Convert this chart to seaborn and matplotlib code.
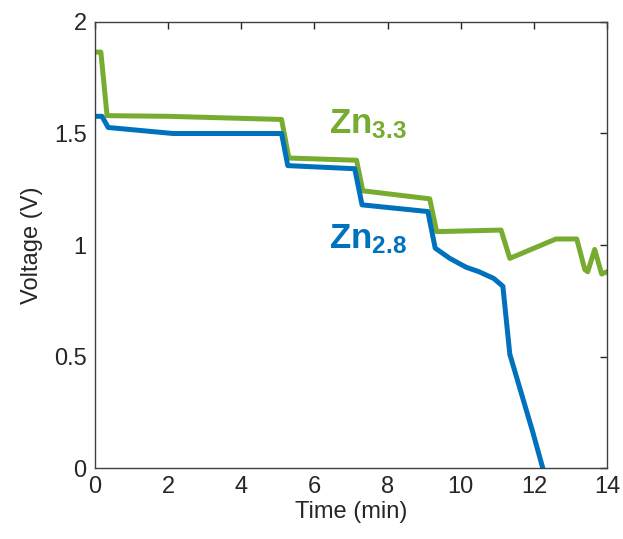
import pandas as pd
import matplotlib
matplotlib.use('Agg')
import matplotlib.pyplot as plt
import seaborn as sns

# --- Data (time in min, voltage in V) ---
zn33_time = [0.0, 0.16, 0.33, 2.0, 5.1, 5.3, 7.15, 7.32, 9.15, 9.34, 11.1, 11.34,
             12.6, 13.17, 13.39, 13.47, 13.66, 13.85, 14.0]
zn33_volt = [1.865, 1.865, 1.58, 1.577, 1.563, 1.39, 1.38, 1.243, 1.207, 1.06, 1.067, 0.94,
             1.027, 1.027, 0.89, 0.88, 0.98, 0.87, 0.88]

zn28_time = [0.0, 0.19, 0.36, 2.13, 5.1, 5.27, 7.1, 7.3, 9.1, 9.3, 9.7, 10.15, 10.5,
             10.9, 11.15, 11.34, 11.97, 12.24]
zn28_volt = [1.577, 1.577, 1.527, 1.50, 1.50, 1.356, 1.342, 1.18, 1.15, 0.986, 0.94, 0.90, 0.88,
             0.85, 0.815, 0.51, 0.16, 0.0]

green = '#77AC30'
blue = '#0072BD'

df = pd.concat([
    pd.DataFrame({'Time': zn33_time, 'Voltage': zn33_volt, 'Sample': 'Zn3.3'}),
    pd.DataFrame({'Time': zn28_time, 'Voltage': zn28_volt, 'Sample': 'Zn2.8'}),
])

sns.set_style('white')
plt.rcParams['font.family'] = ['Liberation Sans', 'DejaVu Sans']
plt.rcParams['mathtext.fontset'] = 'custom'
plt.rcParams['mathtext.rm'] = 'Liberation Sans'
plt.rcParams['mathtext.bf'] = 'Liberation Sans:bold'

fig = plt.figure(figsize=(6.23, 5.39), dpi=100)
ax = fig.add_axes([0.1525, 0.1317, 0.822, 0.8275])

sns.lineplot(data=df, x='Time', y='Voltage', hue='Sample', sort=False,
             palette={'Zn3.3': green, 'Zn2.8': blue}, linewidth=3.6,
             legend=False, ax=ax, estimator=None)

ax.set_xlim(0, 14)
ax.set_ylim(0, 2)
ax.set_xticks([0, 2, 4, 6, 8, 10, 12, 14])
ax.set_yticks([0, 0.5, 1, 1.5, 2])
ax.set_yticklabels(['0', '0.5', '1', '1.5', '2'])
ax.tick_params(direction='in', length=5, width=1, top=True, right=True,
               labelsize=17, colors='#262626', pad=6)
for s in ax.spines.values():
    s.set_visible(True)
    s.set_color('#404040')
    s.set_linewidth(1)

ax.set_xlabel('Time (min)', fontsize=17, color='#262626', labelpad=2)
ax.set_ylabel('Voltage (V)', fontsize=17, color='#262626', labelpad=8)

ax.text(6.4, 1.50, r'$\mathbf{Zn_{3.3}}$', color=green, fontsize=25, va='baseline')
ax.text(6.4, 0.986, r'$\mathbf{Zn_{2.8}}$', color=blue, fontsize=25, va='baseline')

fig.savefig('out.png', dpi=100)
